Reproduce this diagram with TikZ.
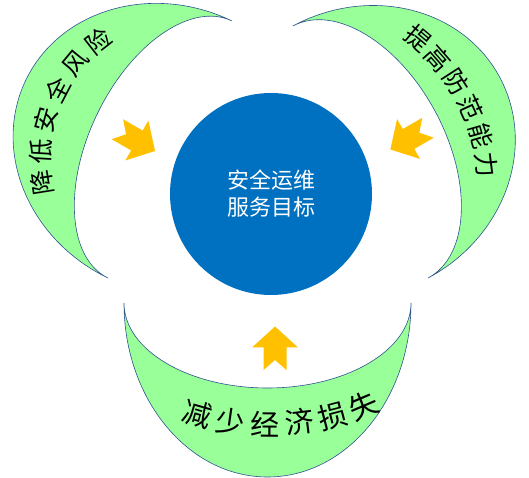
\documentclass[tikz,border=0pt]{standalone}
\usepackage{fontspec}
\newfontfamily\cjk{Noto Sans CJK SC}
\usepackage{xcolor}
\usepackage{tikz}
\usetikzlibrary{positioning,calc}

\definecolor{moongreen}{HTML}{99FF99}
\definecolor{moonline}{HTML}{2F528F}
\definecolor{goalblue}{HTML}{0070C0}
\definecolor{arrowgold}{HTML}{FFC000}

\begin{document}
\begin{tikzpicture}[
  x=1pt, y=1pt,
  moon/.style={draw=moonline, line width=0.6pt, fill=moongreen},
  goal/.style={circle, fill=goalblue, minimum size=202pt, inner sep=0pt, text=white, align=center, font=\cjk\fontsize{22}{27}\selectfont},
  moontext/.style={inner sep=0pt, font=\cjk\fontsize{25}{25}\selectfont},
  bigtext/.style={inner sep=0pt, font=\cjk\fontsize{29}{29}\selectfont},
  notcharrow/.pic={\fill[arrowgold] (22,0) -- (1,23) -- (1,11.5) -- (-21.5,11.5) -- (-11.5,0) -- (-21.5,-11.5) -- (1,-11.5) -- (1,-23) -- cycle;}
]
\useasboundingbox (0,0) rectangle (529,478);

% left moon
\begin{scope}[shift={(170,328.5)}, rotate=154.3]
  \draw[moon] (0,142.7) arc[start angle=90, end angle=-90, x radius=160, y radius=142.7]
    arc[start angle=-90, end angle=90, x radius=81, y radius=142.7] -- cycle;
  \foreach \ch [count=\i] in {降,低,安,全,风,险} {
    \pgfmathsetmacro\t{37.5-13.2*(\i-1)}
    \pgfmathsetmacro\r{154.3+atan2(127*sin(\t),140*cos(\t))-90}
    \node[moontext, rotate=\r] (risk\i) at (\t:127 and 140) {\ch};
  }
\end{scope}

% right moon
\begin{scope}[shift={(360.5,326)}, rotate=28.2]
  \draw[moon] (0,143) arc[start angle=90, end angle=-90, x radius=158, y radius=143]
    arc[start angle=-90, end angle=90, x radius=85, y radius=143] -- cycle;
  \foreach \ch [count=\i] in {提,高,防,范,能,力} {
    \pgfmathsetmacro\t{28-11*(\i-1)}
    \pgfmathsetmacro\r{28.2+atan2(118*sin(\t),156*cos(\t))-90}
    \node[moontext, rotate=\r] (guard\i) at (\t:118 and 156) {\ch};
  }
\end{scope}

% bottom moon
\begin{scope}[shift={(267.5,175)}, rotate=-90]
  \draw[moon] (0,143.5) arc[start angle=90, end angle=-90, x radius=174, y radius=143.5]
    arc[start angle=-90, end angle=90, x radius=85, y radius=143.5] -- cycle;
  \foreach \ch [count=\i] in {减,少,经,济,损,失} {
    \pgfmathsetmacro\t{-23+11.06*(\i-1)}
    \pgfmathsetmacro\r{atan2(121*sin(\t),180*cos(\t))}
    \node[bigtext, rotate=\r] (loss\i) at (\t:121 and 180) {\ch};
  }
\end{scope}

\node[goal] (goal) at (271,284) {安全运维\\服务目标};

\pic[rotate=-30] at (136,338) {notcharrow};
\pic[rotate=210] at (409.4,339.5) {notcharrow};
\pic[rotate=90] at (275,129.5) {notcharrow};

\end{tikzpicture}
\end{document}
